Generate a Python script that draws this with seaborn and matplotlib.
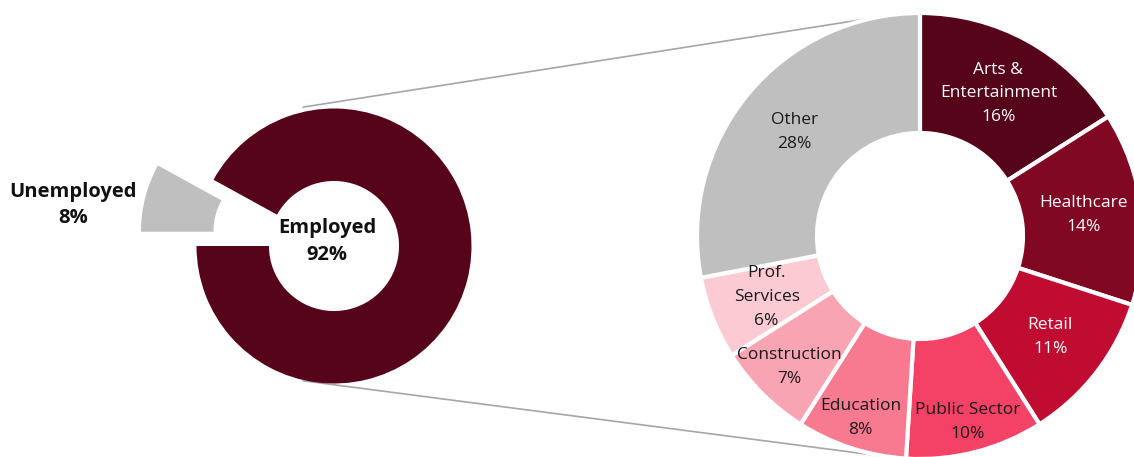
import matplotlib
matplotlib.use("Agg")
import matplotlib.pyplot as plt
from matplotlib.patches import ConnectionPatch
import numpy as np
import seaborn as sns

# ---- data -------------------------------------------------------------
status_labels = ["Unemployed", "Employed"]
status_values = [8, 92]

sector_labels = ["Arts &\nEntertainment", "Healthcare", "Retail", "Public Sector",
                 "Education", "Construction", "Prof.\nServices", "Other"]
sector_values = [16, 14, 11, 10, 8, 7, 6, 28]

# ---- style ------------------------------------------------------------
sns.set_theme(style="white")
plt.rcParams["font.family"] = ["Open Sans", "DejaVu Sans"]

status_colors = ["#bfbfbf", "#560419"]
sector_colors = ["#560419", "#800822", "#bf0c30", "#f44166",
                 "#f77a91", "#f9a4b3", "#fbcad3", "#bfbfbf"]
sector_text = ["white", "white", "white", "#1a1a1a",
               "#1a1a1a", "#1a1a1a", "#1a1a1a", "#1a1a1a"]
label_radius = [0.73, 0.74, 0.74, 0.86, 0.86, 0.83, 0.74, 0.73]

W, H = 1134, 457
fig = plt.figure(figsize=(W / 100, H / 100), dpi=100)


def place_axes(cx, cy, r, half_w, half_h):
    """Axes whose data unit is r pixels, centred on pixel (cx, cy) from the top-left."""
    ax = fig.add_axes([(cx - half_w * r) / W, (H - cy - half_h * r) / H,
                       2 * half_w * r / W, 2 * half_h * r / H])
    return ax, (half_w, half_h)


# ---- left donut: employment status -------------------------------------
ax1, (hw1, hh1) = place_axes(334, 246, 137.5, 2.45, 1.75)
ax1.pie(status_values, colors=status_colors, startangle=151.2, counterclock=True,
        explode=[0.417, 0], radius=1.0,
        wedgeprops=dict(width=0.527, linewidth=0))
ax1.set_xlim(-hw1, hw1)
ax1.set_ylim(-hh1, hh1)
ax1.set_aspect("auto")
ax1.patch.set_visible(False)
ax1.axis("off")

ax1.text(-0.05, 0.03, f"{status_labels[1]}\n{status_values[1]}%", ha="center", va="center",
         fontsize=14.5, fontweight="bold", color="#111111", linespacing=1.45)
ax1.text(-1.9, 0.3, f"{status_labels[0]}\n{status_values[0]}%", ha="center", va="center",
         fontsize=14.5, fontweight="bold", color="#111111", linespacing=1.4)

# ---- right donut: sectors of the employed ------------------------------
ax2, (hw2, hh2) = place_axes(920, 236, 223, 1.05, 1.05)
wedges, _ = ax2.pie(sector_values, colors=sector_colors, startangle=90, counterclock=False,
                    radius=1.0,
                    wedgeprops=dict(width=0.538, edgecolor="white", linewidth=3))
ax2.set_xlim(-hw2, hw2)
ax2.set_ylim(-hh2, hh2)
ax2.set_aspect("auto")
ax2.patch.set_visible(False)
ax2.axis("off")

for w, lab, val, col, rr in zip(wedges, sector_labels, sector_values, sector_text, label_radius):
    mid = np.deg2rad((w.theta1 + w.theta2) / 2)
    ax2.text(rr * np.cos(mid), rr * np.sin(mid), f"{lab}\n{val}%", ha="center", va="center",
             fontsize=12.5, color=col, linespacing=1.65)

# ---- connector lines between the two donuts -----------------------------
for ya, yb in [(1.01, 1.0), (-0.98, -1.0)]:
    con = ConnectionPatch(xyA=(-0.225, ya), coordsA=ax1.transData,
                          xyB=(-0.07, yb), coordsB=ax2.transData,
                          color="#a6a6a6", linewidth=1.2, zorder=-1)
    fig.add_artist(con)

fig.savefig("out.png", dpi=100, facecolor="white")
